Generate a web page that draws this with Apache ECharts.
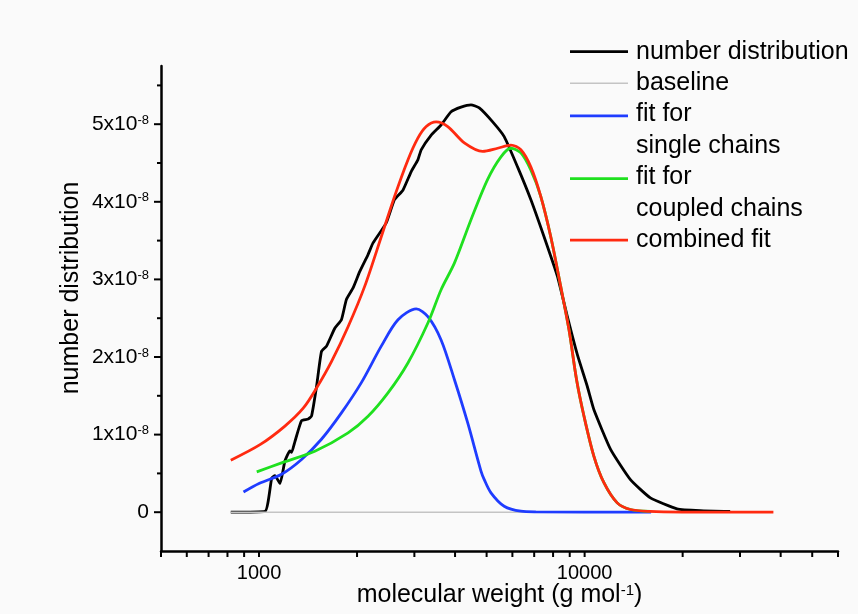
<!DOCTYPE html>
<html><head><meta charset="utf-8">
<script src="https://cdn.jsdelivr.net/npm/echarts@6/dist/echarts.min.js"></script>
<style>html,body{margin:0;padding:0;background:#fafafa}#c{width:858px;height:614px}</style>
</head><body><div id="c"></div>
<script>
const FONT = '"Liberation Sans", Arial, Helvetica, sans-serif';
const UNIT = 1e-8; // values below are in units of 1e-8

const seriesNames = ['number distribution', 'baseline', 'fit for\nsingle chains', 'fit for\ncoupled chains', 'combined fit'];
const seriesColors = ['#000000', '#c4c4c4', '#1f3cff', '#1fe01f', '#ff2a10'];

const blackM = [819, 1043, 1094, 1119, 1160, 1201, 1244, 1259, 1289, 1351, 1416, 1450, 1502, 1555, 1612, 1709, 1791, 1855, 1945, 2038, 2162, 2240, 2460, 2608, 2767, 2934, 3075, 3148, 3379, 3624, 3889, 4173, 4477, 4748, 5219, 5662, 6223, 6834, 7506, 8250, 8851, 9499, 10193, 10679, 12014, 13825, 15922, 19213, 22646, 27990];
const blackV = [0, 0.01, 0.44, 0.47, 0.37, 0.66, 0.79, 0.77, 0.91, 1.18, 1.20, 1.24, 1.62, 2.07, 2.14, 2.37, 2.48, 2.74, 2.89, 3.10, 3.32, 3.47, 3.73, 4.03, 4.15, 4.39, 4.54, 4.67, 4.86, 4.99, 5.16, 5.22, 5.25, 5.21, 5.03, 4.84, 4.45, 4.03, 3.55, 3.04, 2.52, 2.03, 1.62, 1.32, 0.81, 0.42, 0.185, 0.044, 0.02, 0.01];

const baselineM = [819, 28000];
const baselineV = [0, 0];

const blueM = [896, 1000, 1173, 1351, 1555, 1791, 2062, 2374, 2672, 3039, 3301, 3624, 3981, 4375, 4805, 4918, 5157, 5662, 6370, 7079, 16000];
const blueV = [0.26, 0.37, 0.49, 0.68, 0.94, 1.28, 1.67, 2.14, 2.48, 2.62, 2.52, 2.22, 1.71, 1.15, 0.53, 0.42, 0.25, 0.077, 0.013, 0.005, 0];

const greenM = [984, 1173, 1484, 1877, 2162, 2489, 2866, 3301, 3624, 3981, 4477, 5037, 5534, 5935, 6370, 6834, 7333, 7870, 8443, 8954, 9452, 9952, 10679, 11461, 12594, 13825, 15922];
const greenV = [0.52, 0.636, 0.785, 1.022, 1.236, 1.537, 1.923, 2.438, 2.867, 3.21, 3.77, 4.29, 4.58, 4.69, 4.63, 4.41, 4.07, 3.55, 2.91, 2.35, 1.70, 1.24, 0.72, 0.38, 0.12, 0.035, 0.01];

const redM = [819, 1007, 1201, 1367, 1502, 1669, 1877, 2111, 2374, 2608, 2866, 3075, 3262, 3499, 3799, 4271, 4862, 5405, 5935, 6370, 6834, 7333, 7870, 8443, 8954, 9452, 9952, 10679, 11461, 12594, 13825, 15922, 20000, 38000];
const redV = [0.67, 0.87, 1.11, 1.34, 1.60, 1.94, 2.39, 2.91, 3.55, 4.07, 4.54, 4.82, 4.97, 5.03, 4.97, 4.76, 4.65, 4.69, 4.73, 4.67, 4.45, 4.07, 3.55, 2.91, 2.35, 1.70, 1.24, 0.72, 0.38, 0.12, 0.035, 0.01, 0.002, 0];

const xTicks = [500, 600, 700, 800, 900, 1000, 2000, 3000, 4000, 5000, 6000, 7000, 8000, 9000, 10000, 20000, 30000, 40000, 50000, 60000];
const xLabelTicks = [1000, 10000];
const yMajorTicks = [0, 1, 2, 3, 4, 5];
const yMinorTicks = [0.5, 1.5, 2.5, 3.5, 4.5, 5.5];
const xMin = 500, xMax = 60000, yMin = -0.5, yMax = 5.75, yStep = 0.5;

function pairs(M, V) { return M.map((m, i) => [m, V[i] * UNIT]); }

const lineSeries = [
  [blackM, blackV, 2.8, 0.15],
  [baselineM, baselineV, 1.5, false],
  [blueM, blueV, 2.8, 0.3],
  [greenM, greenV, 2.8, 0.3],
  [redM, redV, 2.8, 0.3]
].map((d, i) => ({
  type: 'line', name: seriesNames[i], data: pairs(d[0], d[1]),
  symbol: 'none', smooth: d[3], color: seriesColors[i],
  lineStyle: { width: d[2], color: seriesColors[i] }, z: 2 + i, silent: true
}));

function xTickRender(params, api) {
  const p = api.coord([api.value(0), api.value(1)]);
  return { type: 'line', shape: { x1: p[0], y1: p[1], x2: p[0], y2: p[1] + 6 }, style: { stroke: '#000', lineWidth: 2 } };
}
function yTickRender(len) {
  return function (params, api) {
    const p = api.coord([api.value(0), api.value(1)]);
    return { type: 'line', shape: { x1: p[0] - len, y1: p[1], x2: p[0], y2: p[1] }, style: { stroke: '#000', lineWidth: 2 } };
  };
}

const tickSeries = [
  { type: 'custom', name: 'xticks', data: xTicks.map(v => [v, yMin * UNIT]), renderItem: xTickRender, clip: false, silent: true, z: 20 },
  { type: 'custom', name: 'ymajor', data: yMajorTicks.map(v => [xMin, v * UNIT]), renderItem: yTickRender(7), clip: false, silent: true, z: 20 },
  { type: 'custom', name: 'yminor', data: yMinorTicks.map(v => [xMin, v * UNIT]), renderItem: yTickRender(4), clip: false, silent: true, z: 20 }
];

const LH = 31.4;
// legend icons: a horizontal bar; invisible points stretch the icon box to one text line
const iconMid = 'path://M0,14.3 L58,14.3 L58,17.1 L0,17.1 Z M0,0 L0,0 M0,31.4 L0,31.4';
const iconThin = 'path://M0,15 L58,15 L58,16.5 L0,16.5 Z M0,0 L0,0 M0,31.4 L0,31.4';
const iconTop = 'path://M0,0 L58,0 L58,2.8 L0,2.8 Z M0,31.4 L0,31.4';

const chart = echarts.init(document.getElementById('c'), null, { renderer: 'canvas' });
chart.setOption({
  backgroundColor: '#fafafa',
  animation: false,
  textStyle: { fontFamily: FONT },
  grid: { left: 161, right: 20, top: 66, bottom: 63, containLabel: false, outerBoundsMode: 'none' },
  legend: {
    orient: 'vertical', left: 570, top: 36, padding: 0, itemGap: 0,
    itemWidth: 58, itemHeight: LH, selectedMode: false,
    itemStyle: { borderWidth: 0 },
    textStyle: { fontSize: 25, fontFamily: FONT, color: '#000', lineHeight: LH, padding: [0, 0, 0, 3] },
    data: [
      { name: seriesNames[0], icon: iconMid },
      { name: seriesNames[1], icon: iconThin },
      { name: seriesNames[2], icon: iconTop },
      { name: seriesNames[3], icon: iconTop },
      { name: seriesNames[4], icon: iconMid }
    ]
  },
  xAxis: {
    type: 'log', logBase: 10, min: xMin, max: xMax,
    axisLine: { onZero: false, lineStyle: { color: '#000', width: 2.5 } },
    axisTick: { show: false }, splitLine: { show: false }, minorTick: { show: false },
    axisLabel: {
      fontSize: 20, color: '#000', fontFamily: FONT, margin: 12,
      formatter: function (v) {
        for (const t of xLabelTicks) { if (Math.abs(Math.log10(v) - Math.log10(t)) < 1e-6) return String(t); }
        return '';
      }
    },
    name: 'molecular weight (g mol{s|-1})', nameLocation: 'middle', nameGap: 32, nameMoveOverlap: false,
    nameTextStyle: { fontSize: 25, color: '#000', fontFamily: FONT,
      rich: { s: { fontSize: 15, verticalAlign: 'top', color: '#000', fontFamily: FONT } } }
  },
  yAxis: {
    type: 'value', min: yMin * UNIT, max: yMax * UNIT, interval: yStep * UNIT,
    axisLine: { onZero: false, lineStyle: { color: '#000', width: 2.5 } },
    axisTick: { show: false }, splitLine: { show: false },
    axisLabel: {
      color: '#000', fontFamily: FONT, margin: 12,
      formatter: function (v) {
        const n = Math.round(v / UNIT * 1000) / 1000;
        if (n === 0) return '{b|0}';
        if (yMajorTicks.indexOf(n) >= 0) return '{b|' + n + 'x10}{s|-8}';
        return '';
      },
      rich: {
        b: { fontSize: 21, color: '#000', fontFamily: FONT, verticalAlign: 'bottom' },
        s: { fontSize: 13, color: '#000', fontFamily: FONT, verticalAlign: 'top' }
      }
    },
    name: 'number distribution', nameLocation: 'middle', nameGap: 77, nameMoveOverlap: false,
    nameTextStyle: { fontSize: 25, color: '#000', fontFamily: FONT, padding: [0, 0, 0, 41] }
  },
  series: lineSeries.concat(tickSeries)
});
</script></body></html>
